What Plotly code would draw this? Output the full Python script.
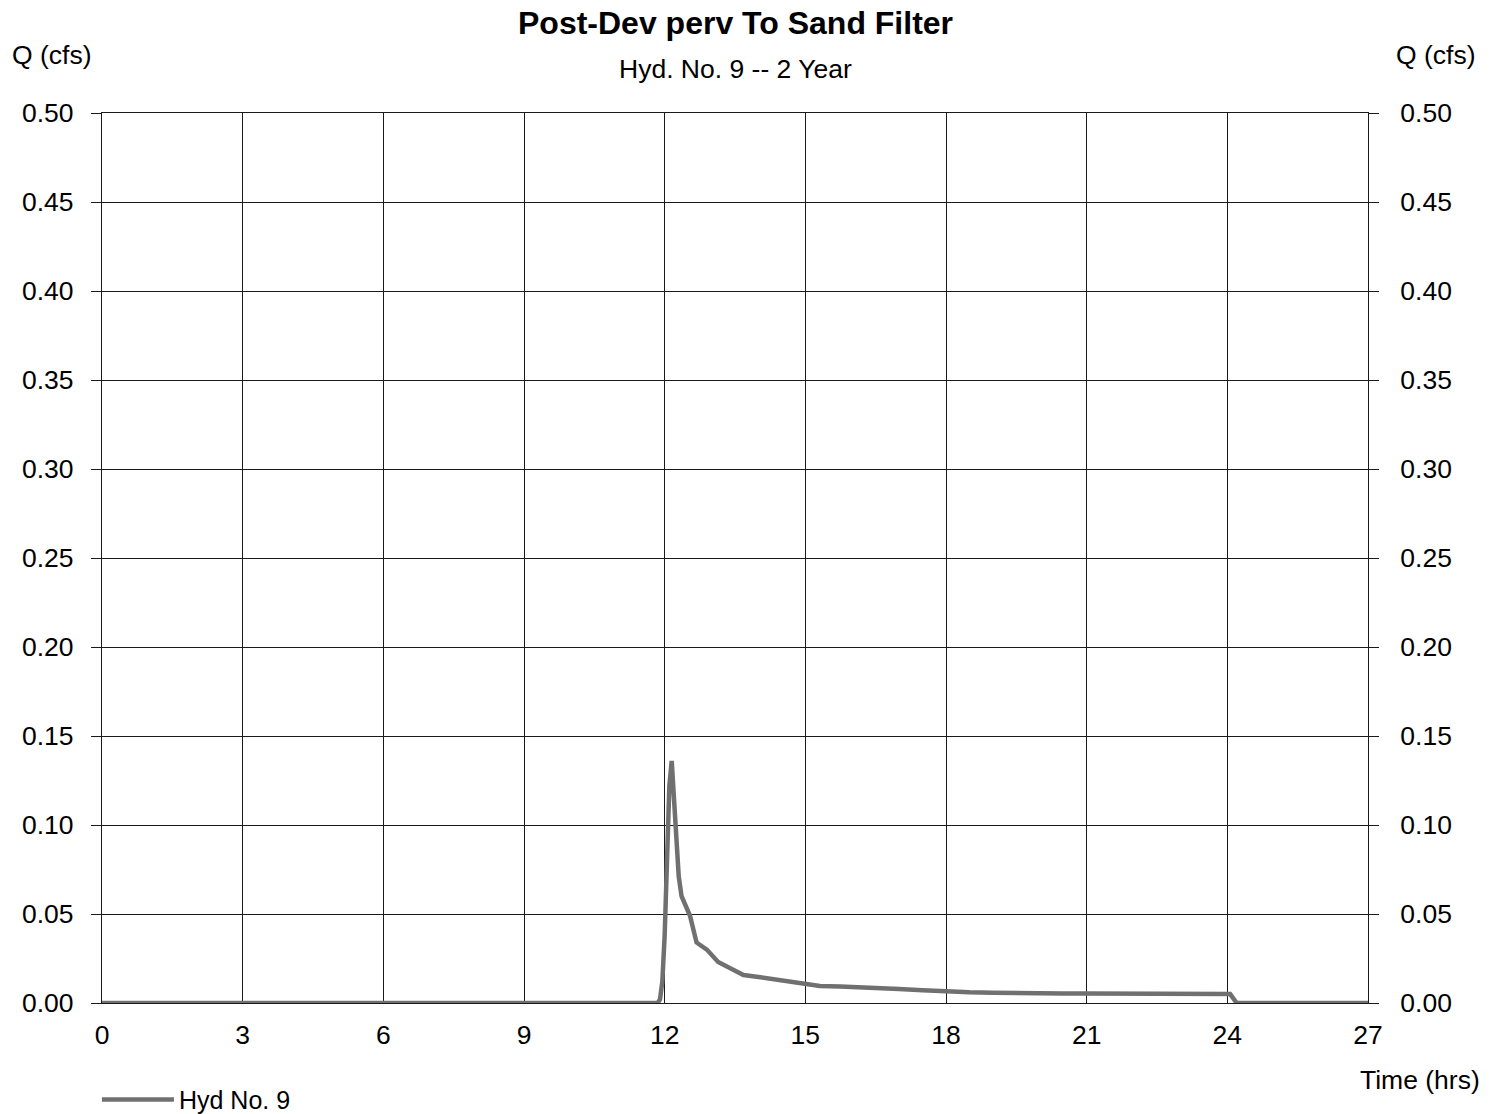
import plotly.graph_objects as go

# Hydrograph ordinates: time (hrs) and flow (cfs)
time_hrs = [0.0, 11.85, 11.90, 11.95, 12.00, 12.05, 12.10, 12.15, 12.20, 12.25, 12.30,
            12.36, 12.43, 12.54, 12.68, 12.90, 13.14, 13.39, 13.68, 13.96, 14.32,
            14.67, 15.03, 15.31, 15.74, 16.0, 16.5, 17.0, 17.5, 18.0, 18.5, 19.0,
            19.5, 20.0, 20.5, 21.0, 21.5, 22.0, 22.5, 23.0, 23.5, 24.0, 24.06,
            24.2, 27.0]
flow_cfs = [0.0, 0.0, 0.002, 0.012, 0.038, 0.090, 0.122, 0.136, 0.112, 0.092, 0.071,
            0.060, 0.056, 0.049, 0.034, 0.030, 0.023, 0.0195, 0.0157, 0.0148, 0.0133,
            0.0116, 0.0101, 0.0095, 0.0092, 0.0090, 0.0086, 0.0078, 0.0071, 0.0064, 0.0060,
            0.0058, 0.0055, 0.0055, 0.0054, 0.0054, 0.0053, 0.0052, 0.0052, 0.0051, 0.0050,
            0.0050, 0.0050, 0.0, 0.0]

x_ticks = [0, 3, 6, 9, 12, 15, 18, 21, 24, 27]
y_ticks = [0.0, 0.05, 0.10, 0.15, 0.20, 0.25, 0.30, 0.35, 0.40, 0.45, 0.50]
y_labels = [f"{v:.2f}" for v in y_ticks]

FONT = "Liberation Sans, Arial, sans-serif"
GRID = "#1a1a1a"
FS = 26.5

fig = go.Figure()
fig.add_trace(go.Scatter(
    x=time_hrs, y=flow_cfs, mode="lines", name="Hyd No. 9",
    line=dict(color="#707070", width=4.5), cliponaxis=False,
))
# invisible twin so the right-hand Q axis is drawn
fig.add_trace(go.Scatter(x=[0], y=[0], yaxis="y2", mode="markers",
                         marker=dict(opacity=0), showlegend=False, hoverinfo="skip"))

axis_common = dict(showgrid=True, gridcolor=GRID, gridwidth=1.2, showline=True,
                   linecolor=GRID, linewidth=1.2, zeroline=False, layer="below traces",
                   tickfont=dict(family=FONT, size=FS, color="black"))

fig.update_layout(
    width=1504, height=1114,
    margin=dict(l=102, r=136, t=113, b=111, autoexpand=False),
    paper_bgcolor="white", plot_bgcolor="white",
    font=dict(family=FONT, color="black"),
    xaxis=dict(range=[0, 27], tickvals=x_ticks, ticks="", mirror=True,
               ticklabelstandoff=8, **axis_common),
    yaxis=dict(range=[0, 0.5], tickvals=y_ticks, ticktext=y_labels, ticks="outside",
               ticklen=10, tickcolor=GRID, mirror=True, ticklabelstandoff=12,
               **axis_common),
    yaxis2=dict(range=[0, 0.5], tickvals=y_ticks, ticktext=y_labels, ticks="outside",
                ticklen=10, tickcolor=GRID, overlaying="y", side="right",
                ticklabelstandoff=16, showgrid=False, showline=False, zeroline=False,
                tickfont=dict(family=FONT, size=FS, color="black")),
    showlegend=True,
    legend=dict(orientation="h", x=-0.004, xanchor="left", y=-0.083, yanchor="top",
                itemwidth=72,
                font=dict(family=FONT, size=25, color="black"),
                bgcolor="rgba(0,0,0,0)"),
)

# header and side labels, positioned relative to the 1266 x 890 px plot area
ph, pw = 890.0, 1266.0
fig.add_annotation(text="<b>Post-Dev perv To Sand Filter</b>", xref="paper", yref="paper",
                   x=0.5, y=1 + (113 - 23) / ph, yanchor="middle", showarrow=False,
                   font=dict(size=32, family=FONT))
fig.add_annotation(text="Hyd. No. 9 -- 2 Year", xref="paper", yref="paper",
                   x=0.5, y=1 + (113 - 69) / ph, yanchor="middle", showarrow=False,
                   font=dict(size=FS, family=FONT))
fig.add_annotation(text="Q (cfs)", xref="paper", yref="paper",
                   x=(10 - 102) / pw, xanchor="left", y=1 + (113 - 55) / ph, yanchor="middle",
                   showarrow=False, font=dict(size=FS, family=FONT))
fig.add_annotation(text="Q (cfs)", xref="paper", yref="paper",
                   x=1 + (1478 - 1368) / pw, xanchor="right", y=1 + (113 - 55) / ph,
                   yanchor="middle", showarrow=False, font=dict(size=FS, family=FONT))
fig.add_annotation(text="Time (hrs)", xref="paper", yref="paper",
                   x=1 + (1482 - 1368) / pw, xanchor="right", y=-(1080 - 1003) / ph,
                   yanchor="middle", showarrow=False, font=dict(size=FS, family=FONT))

fig.write_html("out.html")
